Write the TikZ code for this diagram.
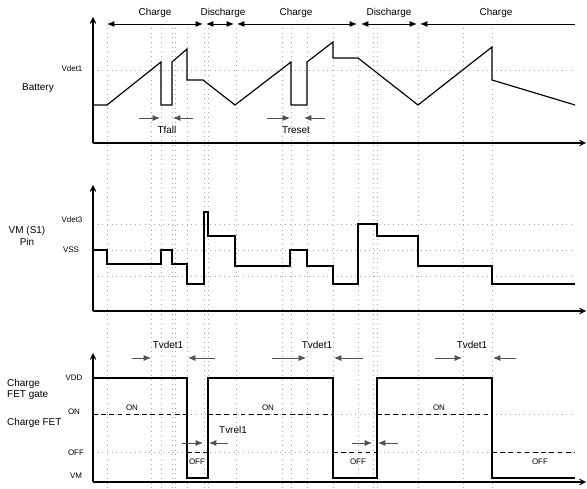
\documentclass[tikz,border=0pt]{standalone}
\usepackage{fontspec}
\setmainfont{Liberation Sans}
\usepackage{tikz}
\usetikzlibrary{arrows.meta}
\usepackage{xcolor}
\definecolor{gridgray}{HTML}{A8A8A8}
\definecolor{markgray}{HTML}{505050}
\tikzset{
  axis/.style={
    line width=0.9pt,
    -{Straight Barb[length=1.6mm,width=1.6mm]}
  },
  wave/.style={
    line width=1pt,
    line join=miter
  },
  fetline/.style={
    dashed,
    dash pattern=on 4pt off 3pt,
    line width=0.6pt
  },
  gridline/.style={
    draw=gridgray,
    line width=0.6pt,
    dash pattern=on 0.6pt off 3.4pt
  },
  span/.style={
    {Latex[length=2.2mm,width=1.8mm]}-{Latex[length=2.2mm,width=1.8mm]},
    line width=0.8pt
  },
  spanleft/.style={
    {Latex[length=2.2mm,width=1.8mm]}-,
    line width=0.8pt
  },
  tmark/.style={
    -{Latex[length=2.2mm,width=1.8mm]},
    draw=markgray,
    line width=0.7pt
  },
  title/.style={
    font=\fontsize{8.5}{10}\selectfont,
    align=center,
    inner sep=0pt
  },
  level/.style={
    font=\fontsize{6.8}{8}\selectfont,
    inner sep=0pt
  }
}

\begin{document}
\begin{tikzpicture}[x=0.03cm,y=-0.03cm]
\useasboundingbox (0,0) rectangle (587,489);

% grid
\foreach \gx in {107,151,161,172,175,187,204,208,236,282,291,307,333,358,373,377,418,463,492}
  \draw[gridline] (\gx,28) -- (\gx,489);
\foreach \gy in {70,224,250,276,414,452}
  \draw[gridline] (93,\gy) -- (572,\gy);

% axes
\draw[axis] (93,143) -- (93,17);
\draw[axis] (93,143) -- (586,143);
\draw[axis] (93,311) -- (93,185);
\draw[axis] (93,311) -- (586,311);
\draw[axis] (93,482) -- (93,353);
\draw[axis] (93,482) -- (586,482);

% phases
\draw[span] (107,24) -- (203,24);
\draw[span] (206,24) -- (234,24);
\draw[span] (237,24) -- (357,24);
\draw[span] (361,24) -- (417,24);
\draw[spanleft] (420,24) -- (575,24);
\node[title] (ch1) at (155,13) {Charge};
\node[title] (dis1) at (223,13) {Discharge};
\node[title] (ch2) at (296,13) {Charge};
\node[title] (dis2) at (389,13) {Discharge};
\node[title] (ch3) at (496,13) {Charge};

% battery
\draw[wave] (93,105) -- (107,105) -- (161,62) -- (161,105) -- (172,105) -- (172,62)
  -- (187,49) -- (187,80) -- (203,80) -- (235,105) -- (291,62) -- (291,105)
  -- (307,105) -- (307,62) -- (333,42) -- (333,58) -- (358,58) -- (418,105)
  -- (492,47) -- (492,80) -- (575,105);
\draw[tmark] (139,118) -- (160,118);
\draw[tmark] (193,118) -- (173,118);
\draw[tmark] (267,118) -- (290,118);
\draw[tmark] (325,118) -- (304,118);
\node[title] (tfall) at (167,130) {Tfall};
\node[title] (treset) at (296,130) {Treset};
\node[title] (batt) at (38,88) {Battery};
\node[level] (vdet1) at (72,69) {Vdet1};

% VM pin
\draw[wave] (93,250) -- (107,250) -- (107,264) -- (161,264) -- (161,250) -- (172,250)
  -- (172,264) -- (187,264) -- (187,284) -- (204,284) -- (204,212) -- (208,212)
  -- (208,236) -- (235,236) -- (235,266) -- (290,266) -- (290,250) -- (307,250)
  -- (307,266) -- (333,266) -- (333,284) -- (358,284) -- (358,224) -- (377,224)
  -- (377,236) -- (418,236) -- (418,266) -- (492,266) -- (492,284) -- (575,284);
\node[title] (vmpin) at (27,236) {VM (S1)\\Pin};
\node[level] (vdet3) at (72,220) {Vdet3};
\node[level] (vss) at (71,250) {VSS};

% charge FET
\draw[wave] (93,378) -- (187,378) -- (187,478) -- (208,478) -- (208,378) -- (333,378)
  -- (333,478) -- (377,478) -- (377,378) -- (492,378) -- (492,478) -- (575,478);
\draw[fetline] (93,414) -- (187,414);
\draw[fetline] (187,452) -- (208,452);
\draw[fetline] (208,414) -- (333,414);
\draw[fetline] (333,452) -- (377,452);
\draw[fetline] (377,414) -- (492,414);
\draw[fetline] (492,452) -- (575,452);
\node[level] (on1) at (132,408) {ON};
\node[level] (on2) at (268,408) {ON};
\node[level] (on3) at (439,408) {ON};
\node[level] (off1) at (197,462) {OFF};
\node[level] (off2) at (358,462) {OFF};
\node[level] (off3) at (540,462) {OFF};
\draw[tmark] (132,358) -- (151,358);
\draw[tmark] (215,358) -- (188,358);
\draw[tmark] (272,358) -- (306,358);
\draw[tmark] (363,358) -- (334,358);
\draw[tmark] (435,358) -- (462,358);
\draw[tmark] (516,358) -- (493,358);
\draw[tmark] (182,443) -- (203,443);
\draw[tmark] (228,443) -- (209,443);
\draw[tmark] (352,443) -- (372,443);
\draw[tmark] (398,443) -- (378,443);
\node[title] (tv1) at (168,345) {Tvdet1};
\node[title] (tv2) at (317,345) {Tvdet1};
\node[title] (tv3) at (472,345) {Tvdet1};
\node[title] (tvrel) at (233,430) {Tvrel1};
\node[title, anchor=west, align=left] (gate) at (7,389.5) {Charge\\FET gate};
\node[title, anchor=west] (fet) at (7,423) {Charge FET};
\node[level] (vdd) at (74,378) {VDD};
\node[level] (lon) at (74,412) {ON};
\node[level] (loff) at (76,453) {OFF};
\node[level] (lvm) at (76,476) {VM};
\end{tikzpicture}
\end{document}
